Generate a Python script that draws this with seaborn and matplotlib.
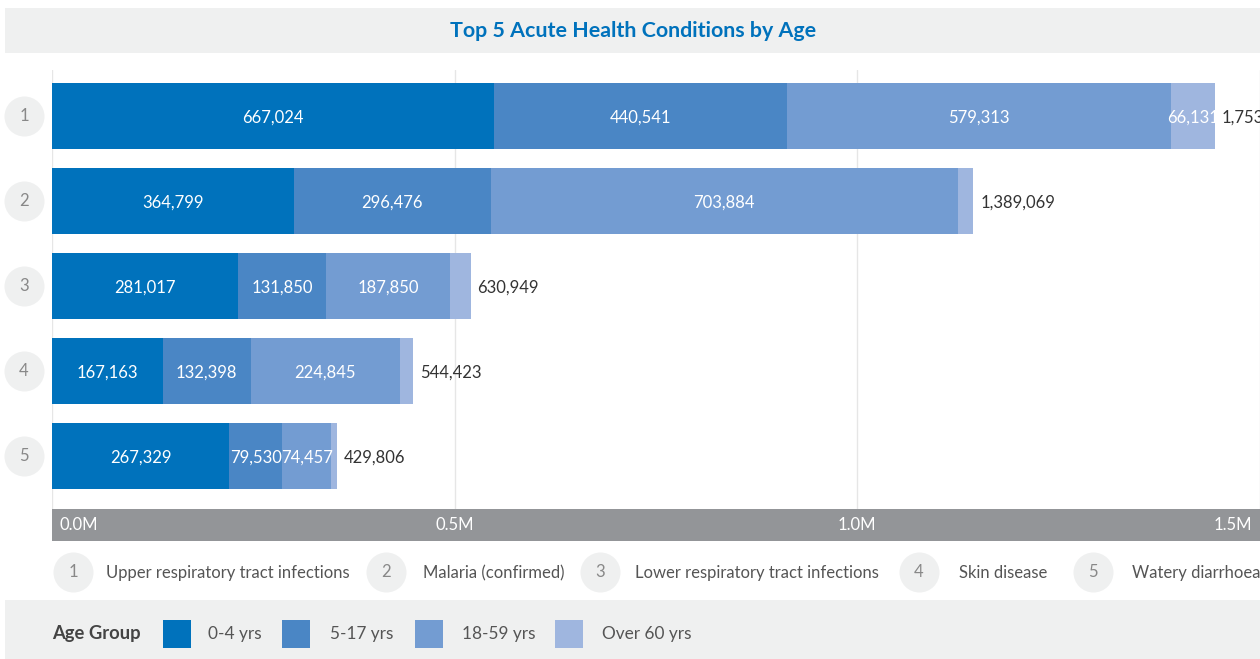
import matplotlib
matplotlib.use("Agg")
import matplotlib.pyplot as plt
import matplotlib.transforms as mtransforms
from matplotlib.patches import Rectangle
import seaborn as sns
import pandas as pd
import numpy as np

# data
title = "Top 5 Acute Health Conditions by Age"
ranks = ["1", "2", "3", "4", "5"]
conditions = ["Upper respiratory tract infections", "Malaria (confirmed)",
              "Lower respiratory tract infections", "Skin disease", "Watery diarrhoea"]
age_groups = ["0-4 yrs", "5-17 yrs", "18-59 yrs", "Over 60 yrs"]
age_0_4 = [667024, 364799, 281017, 167163, 267329]
age_5_17 = [440541, 296476, 131850, 132398, 79530]
age_18_59 = [579313, 703884, 187850, 224845, 74457]
age_60_plus = [66131, 23910, 30232, 20017, 8490]
tick_labels = ["0.0M", "0.5M", "1.0M", "1.5M"]

colors = ["#0072bc", "#4a86c5", "#739cd2", "#9fb6df"]
band = "#eff0f0"

sns.set_theme(style="white")
plt.rcParams['font.family'] = ['Lato', 'DejaVu Sans']

W, H = 1260, 659
fig = plt.figure(figsize=(W / 100, H / 100), dpi=100)

# overlay in pixel units for the bands / legends
ov = fig.add_axes([0, 0, 1, 1])
ov.set_xlim(0, W)
ov.set_ylim(H, 0)
ov.axis("off")
ov.set_zorder(0)

ax = fig.add_axes([52 / W, (H - 509) / H, (W - 52) / W, (509 - 70) / H])
ax.set_zorder(1)
ax.set_facecolor("none")

layers = np.array([age_0_4, age_5_17, age_18_59, age_60_plus])
cum = np.cumsum(layers, axis=0)
totals = cum[-1]

# stacked bars: draw the cumulative sums from the outside in
for i in range(3, -1, -1):
    d = pd.DataFrame({"rank": ranks, "value": cum[i]})
    sns.barplot(data=d, x="value", y="rank", orient="h", color=colors[i],
                saturation=1, width=0.78, linewidth=0, ax=ax, zorder=2)

down = mtransforms.ScaledTranslation(0, -0.015, fig.dpi_scale_trans)
for i in range(4):
    for j in range(5):
        v = layers[i][j]
        left = cum[i - 1][j] if i > 0 else 0
        if v >= 50000:
            ax.text(left + v / 2, j, f"{v:,}", ha="center", va="center",
                    color="white", fontsize=12, zorder=3,
                    transform=ax.transData + down)
for j in range(5):
    ax.annotate(f"{totals[j]:,}", (totals[j], j), xytext=(5, -1),
                textcoords="offset points", ha="left", va="center",
                color="#333333", fontsize=12, annotation_clip=False)

xmax = 1.819e6
tick_step = 0.607e6
ax.set_xlim(0, xmax)
ax.set_ylim(4.62, -0.54)
ax.set_xticks([tick_step * k for k in range(4)], tick_labels)
ax.set_yticks([])
ax.set_xlabel("")
ax.set_ylabel("")
ax.xaxis.grid(True, color="#e6e6e6", lw=1)
ax.set_axisbelow(True)
sns.despine(ax=ax, left=True, bottom=True)
ax.tick_params(axis="x", colors="white", length=0, pad=5.6, labelsize=12)
lbls = ax.get_xticklabels()
lbls[0].set_ha("left")
lbls[0].set_transform(lbls[0].get_transform() + mtransforms.ScaledTranslation(0.08, 0, fig.dpi_scale_trans))
lbls[-1].set_ha("right")
lbls[-1].set_transform(lbls[-1].get_transform() + mtransforms.ScaledTranslation(-0.08, 0, fig.dpi_scale_trans))

# gray axis band
ov.add_patch(Rectangle((52, 509), W - 52, 32, color="#939598", lw=0))

# rank circles on the left
trans = mtransforms.blended_transform_factory(ov.transData, ax.transData)
ax.scatter([24] * 5, range(5), s=830, color=band, transform=trans,
           clip_on=False, zorder=3, linewidth=0)
for j, r in enumerate(ranks):
    ax.text(24, j, r, transform=trans, ha="center", va="center",
            color="#888888", fontsize=12, clip_on=False)

# title band
ov.add_patch(Rectangle((5, 8), W - 5, 45, color=band, lw=0))
ov.text(633, 31, title, ha="center", va="center", color="#0072bc",
        fontsize=15.4, fontweight="bold")

# condition legend
circ_x = [73, 386, 600, 919, 1093]
text_x = [106, 423, 635, 959, 1132]
ov.scatter(circ_x, [572] * 5, s=830, color=band, linewidth=0)
for cx, tx, r, c in zip(circ_x, text_x, ranks, conditions):
    ov.text(cx, 572, r, ha="center", va="center", color="#888888", fontsize=12)
    ov.text(tx, 573, c, ha="left", va="center", color="#555555", fontsize=12)

# age group legend
ov.add_patch(Rectangle((5, 600), W - 5, H - 600, color=band, lw=0))
ov.text(52, 634, "Age Group", ha="left", va="center", color="#444444",
        fontsize=13.2, fontweight="bold")
sq_x = [163, 282, 415, 555]
lab_x = [208, 330, 462, 602]
for sx, lx, c, g in zip(sq_x, lab_x, colors, age_groups):
    ov.add_patch(Rectangle((sx, 620), 28, 28, color=c, lw=0))
    ov.text(lx, 634, g, ha="left", va="center", color="#555555", fontsize=12.4)

fig.savefig("out.png", dpi=100)
